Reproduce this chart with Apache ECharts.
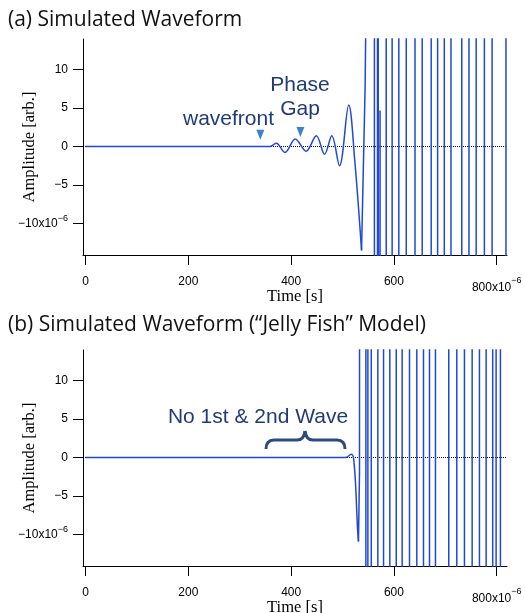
<!DOCTYPE html>
<html>
<head>
<meta charset="utf-8">
<script src="https://cdn.jsdelivr.net/npm/echarts@6/dist/echarts.min.js"></script>
<style>
  html, body { margin: 0; background: #fff; }
  #chart { width: 525px; height: 613px; }
</style>
</head>
<body>
<div id="chart"></div>
<script>
// time in units of 1e-6 s, amplitude in units of 1e-6 arb.
const xTicks = [0, 200, 400, 600, 800];
const yTicks = [-10, -5, 0, 5, 10];

// (a) onset of the simulated waveform (peaks)
const onsetTimeA = [0, 340, 358, 371, 388, 408, 429, 449, 465, 479, 494, 512, 524, 537];
const onsetAmpA = [0, 0, 0, 0.43, -0.77, 1.0, -0.6, 1.4, -1.0, 1.4, -2.5, 5.4, -2, -13.5];
// (a) off-scale part: each crossing is listed twice (the swing runs off the plot)
const burstTimeA = [537, 544, 549, 562, 562, 568, 568, 571, 571, 572.6, 573, 573.4,
  585, 585, 596.5, 596.5, 609.5, 609.5, 624, 624, 641, 641, 655, 655, 672.5, 672.5,
  685, 685, 698, 698, 711, 711, 732, 732, 746, 746, 760, 760, 776, 776, 791, 791,
  818, 818, 830];
const burstAmpA = [-13.5, 8, 40, 400, -400, -400, 400, 400, -400, -400, 4.7, -400,
  -400, 400, 400, -400, -400, 400, 400, -400, -400, 400, 400, -400, -400, 400,
  400, -400, -400, 400, 400, -400, -400, 400, 400, -400, -400, 400, 400, -400, -400, 400,
  400, -400, -400];

// (b) "Jelly Fish" model
const onsetTimeB = [0, 500, 508, 517, 521, 525, 529, 531];
const onsetAmpB = [0, 0, 0.05, 0.44, 0.1, -3, -9, -10.9];
const burstTimeB = [531, 533, 535,
  545.4, 545.4, 549.3, 549.3, 555.9, 555.9, 568.7, 568.7, 579.8, 579.8, 592, 592,
  604.5, 604.5, 616, 616, 630.3, 630.3, 644.5, 644.5, 657.5, 657.5, 669.2, 669.2,
  680.8, 680.8, 706.7, 706.7, 722.3, 722.3, 737.2, 737.2, 752.2, 752.2, 766.4, 766.4,
  779.4, 779.4, 792.2, 792.2, 798.8, 798.8, 807.2, 807.2, 830];
const burstAmpB = [-10.9, -2, 400,
  400, -400, -400, 400, 400, -400, -400, 400, 400, -400, -400, 400,
  400, -400, -400, 400, 400, -400, -400, 400, 400, -400, -400, 400,
  400, -400, -400, 400, 400, -400, -400, 400, 400, -400, -400, 400,
  400, -400, -400, 400, 400, -400, -400, 400, 400];

// arrow markers in panel (a)
const arrowTime = [340, 418];
const arrowLevel = [1.55, 1.9];

const pairs = (t, a) => t.map((v, i) => [v, a[i]]);

const lineBlue = '#1f48d8';
const navy = '#1f3a78';
const tickFont = { fontFamily: 'Liberation Sans', fontSize: 12, color: '#000' };
const serif = 'Liberation Serif';
const titleFont = { fontFamily: 'Open Sans', fontSize: 21, fontWeight: 'normal', color: '#111' };

const xAxisFor = (gridIndex) => ({
  type: 'value',
  gridIndex,
  min: -5,
  max: 820,
  name: 'Time [s]',
  nameLocation: 'middle',
  nameGap: 33,
  nameMoveOverlap: false,
  nameTextStyle: { fontFamily: serif, fontSize: 16.5, color: '#000' },
  axisLine: { onZero: false, lineStyle: { color: '#000', width: 1 } },
  axisTick: { customValues: xTicks, length: 10, lineStyle: { color: '#000' } },
  axisLabel: {
    customValues: xTicks,
    margin: 21,
    ...tickFont,
    formatter: (v) => (v === 800 ? '{n|800x10}{s|−6}' : String(v)),
    rich: {
      n: { ...tickFont, verticalAlign: 'bottom' },
      s: { fontFamily: 'Liberation Sans', fontSize: 9, color: '#000', verticalAlign: 'top', padding: [0, 0, 9, 0] },
    },
  },
  splitLine: { show: false },
});

const yAxisFor = (gridIndex) => ({
  type: 'value',
  gridIndex,
  min: -14.1,
  max: 14.0,
  name: 'Amplitude [arb.]',
  nameLocation: 'middle',
  nameGap: 45,
  nameMoveOverlap: false,
  nameTextStyle: { fontFamily: serif, fontSize: 16.5, color: '#000' },
  axisLine: { show: true, onZero: false, lineStyle: { color: '#000', width: 1 } },
  axisTick: { show: true, customValues: yTicks, length: 10, lineStyle: { color: '#000' } },
  axisLabel: {
    customValues: yTicks,
    margin: 15,
    ...tickFont,
    formatter: (v) => (v === -10 ? '{n|−10x10}{s|−6}' : String(v).replace('-', '−')),
    rich: {
      n: { ...tickFont },
      s: { fontFamily: 'Liberation Sans', fontSize: 9, color: '#000', padding: [0, 0, 9, 0] },
    },
  },
  splitLine: { show: false },
});

const zeroLine = {
  silent: true,
  symbol: ['none', 'none'],
  z: 1,
  label: { show: false },
  lineStyle: { type: 'dotted', color: '#000', width: 1 },
  data: [{ yAxis: 0 }],
};

const waveSeries = (idx, data, smooth, extra) => ({
  type: 'line',
  xAxisIndex: idx,
  yAxisIndex: idx,
  data,
  smooth,
  symbol: 'none',
  clip: true,
  z: 3,
  lineStyle: { color: lineBlue, width: 1.5 },
  ...extra,
});

const braceStyle = { fill: 'none', stroke: '#2a4a80', lineWidth: 3 };
const curve = (x1, y1, cx, cy, x2, y2) => ({
  type: 'bezierCurve', shape: { x1, y1, cpx1: cx, cpy1: cy, x2, y2 }, style: braceStyle });
const seg = (x1, y1, x2, y2) => ({ type: 'line', shape: { x1, y1, x2, y2 }, style: braceStyle });

const chart = echarts.init(document.getElementById('chart'));

chart.setOption({
  animation: false,
  backgroundColor: '#fff',
  title: [
    { text: '(a) Simulated Waveform', left: 3, top: 5, textStyle: titleFont },
    { text: '(b) Simulated Waveform (“Jelly Fish” Model)', left: 3, top: 310, textStyle: titleFont },
  ],
  grid: [
    { left: 83, top: 39, width: 424, height: 216, containLabel: false, outerBoundsMode: 'none' },
    { left: 83, top: 350, width: 424, height: 216, containLabel: false, outerBoundsMode: 'none' },
  ],
  xAxis: [xAxisFor(0), xAxisFor(1)],
  yAxis: [yAxisFor(0), yAxisFor(1)],
  series: [
    waveSeries(0, pairs(onsetTimeA, onsetAmpA), 0.35, {
      markLine: zeroLine,
      markPoint: {
        symbol: 'triangle',
        symbolRotate: 180,
        symbolSize: [8, 10],
        itemStyle: { color: '#3f80d2' },
        label: { show: false },
        data: arrowTime.map((t, i) => ({ coord: [t, arrowLevel[i]] })),
      },
    }),
    waveSeries(0, pairs(burstTimeA, burstAmpA), false),
    waveSeries(1, pairs(onsetTimeB, onsetAmpB), 0.3, { markLine: zeroLine }),
    waveSeries(1, pairs(burstTimeB, burstAmpB), false),
  ],
  graphic: [
    { type: 'text', x: 183, y: 119,
      style: { text: 'wavefront', font: '21px "Liberation Sans"', fill: navy, verticalAlign: 'middle' } },
    { type: 'text', x: 300, y: 97,
      style: { text: 'Phase\nGap', font: '21px "Liberation Sans"', fill: navy,
        align: 'center', verticalAlign: 'middle', lineHeight: 24 } },
    { type: 'text', x: 258, y: 417,
      style: { text: 'No 1st & 2nd Wave', font: '21px "Liberation Sans"', fill: navy,
        align: 'center', verticalAlign: 'middle' } },
    curve(266, 449, 266, 440, 274, 440),
    seg(274, 440, 297, 440),
    curve(297, 440, 304, 440, 305, 431),
    curve(305, 431, 306, 440, 313, 440),
    seg(313, 440, 337, 440),
    curve(337, 440, 345, 440, 345, 449),
  ],
});

window.addEventListener('resize', () => chart.resize());
</script>
</body>
</html>
